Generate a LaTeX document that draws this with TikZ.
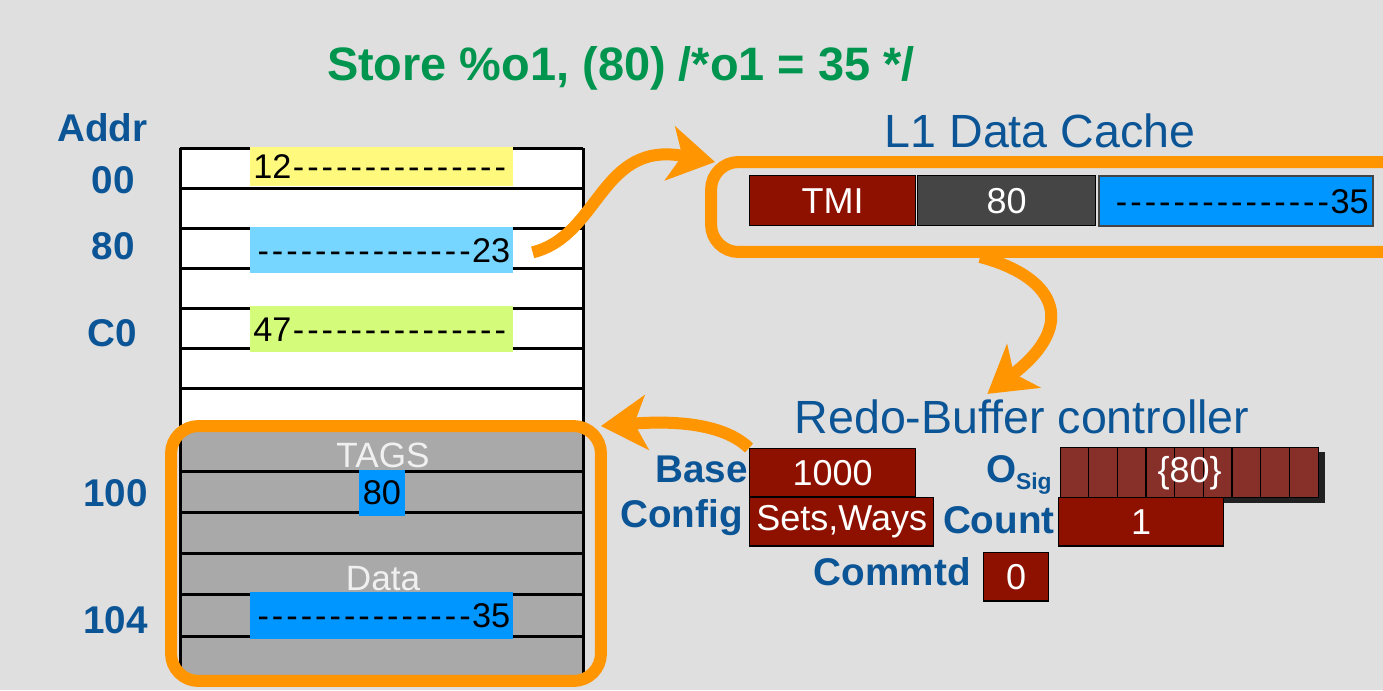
\documentclass[tikz,border=0pt]{standalone}
\usepackage{fontspec}
\setmainfont{Liberation Sans}
\usetikzlibrary{arrows.meta,calc,positioning}
\definecolor{Canvas}{HTML}{DFDFDF}
\definecolor{Amber}{HTML}{FF9500}
\definecolor{Navy}{HTML}{0B5596}
\definecolor{Leaf}{HTML}{00954F}
\definecolor{Brick}{HTML}{8E1100}
\definecolor{Rust}{HTML}{87302A}
\definecolor{Slate}{HTML}{454545}
\definecolor{Azure}{HTML}{0096FF}
\definecolor{Sky}{HTML}{76D6FF}
\definecolor{Lemon}{HTML}{FFFA7D}
\definecolor{Lime}{HTML}{D4FB79}
\definecolor{Stone}{HTML}{A9A9A9}
\newcommand\fs[1]{\fontsize{#1}{#1}\selectfont}
\newcommand\dashes{\foreach\k in {1,...,15}{\makebox[8.2pt]{-}}}

\begin{document}
\begin{tikzpicture}[x=0.02cm,y=-0.02cm,
    lab/.style={font=\bfseries\fs{22},text=Navy,inner sep=0pt},
    head/.style={font=\fs{26.5},text=Navy,inner sep=0pt},
    slot/.style={anchor=north west,inner xsep=0.06cm,inner ysep=0pt,text width=5.14cm,
      minimum height=0.92cm,font=\fs{19.5}},
    cell/.style={anchor=north west,draw=black,line width=0.8pt,inner sep=0pt,
      minimum height=0.97cm,text=white,font=\fs{20.5}},
    frame/.style={draw=Amber,line width=0.24cm,rounded corners=0.55cm,outer sep=0pt,inner sep=0pt},
    flow/.style={draw=Amber,line width=0.24cm,-{Stealth[length=26pt,width=31pt,inset=7pt]}},
    rowline/.style={line width=0.06cm}]
  \clip (0,0) rectangle (1383,690);
  \fill[Canvas] (0,0) rectangle (1383,690);

  \node[font=\bfseries\fs{26.7},text=Leaf,inner sep=0pt,anchor=base] (instr) at (621,80)
    {Store \%o1, (80) /*o1 = 35 */};

  % memory column
  \fill[white] (180,148) rectangle (583,430);
  \fill[Stone] (180,430) rectangle (583,677);
  \foreach \y in {148,188,228,268,308,348,388,430,471,512,553,594,636}
    \draw[rowline] (180,\y) -- (583,\y);
  \draw[rowline] (180,148) -- (180,677) (583,148) -- (583,677);

  \node[lab,anchor=base east] (addr) at (148,141) {Addr};
  \node[lab,anchor=base east] (a00) at (135,193) {00};
  \node[lab,anchor=base east] (a80) at (135,259) {80};
  \node[lab,anchor=base east] (ac0) at (137,346) {C0};
  \node[lab,anchor=base east] (a100) at (148,506) {100};
  \node[lab,anchor=base east] (a104) at (148,633) {104};

  \node[slot,fill=Lemon,minimum height=0.78cm,align=left] (v12) at (250,147) {12\dashes};
  \node[slot,fill=Sky,align=right] (v23) at (250,227) {\dashes23};
  \node[slot,fill=Lime,align=left] (v47) at (250,306) {47\dashes};

  \node[frame,minimum width=8.6cm,minimum height=5.1cm] (memframe) at (386,553.5) {};
  \node[font=\fs{20},text=white!94!black,inner sep=0pt,anchor=base] (tags) at (383,467) {TAGS};
  \node[fill=Azure,inner sep=0pt,minimum width=0.92cm,minimum height=0.92cm,font=\fs{19.5}] (tag80) at (382,493) {80};
  \node[font=\fs{20},text=white!94!black,inner sep=0pt,anchor=base] (data) at (383,590) {Data};
  \node[slot,fill=Azure,minimum height=0.94cm,align=right] (v35) at (250,592) {\dashes35};

  % L1 data cache
  \node[head,anchor=base] (l1) at (1040,147) {L1 Data Cache};
  \node[frame,minimum width=14.02cm,minimum height=1.8cm] (cacheframe) at (1061.5,207) {};
  \node[cell,fill=Brick,minimum width=3.32cm,minimum height=1cm] (tmi) at (749,175) {TMI};
  \node[cell,fill=Slate,minimum width=3.56cm,minimum height=1cm] (ctag) at (917,175) {80};
  \node[cell,fill=Azure,draw=Slate,line width=1.4pt,text=black,inner xsep=0.09cm,text width=5.3cm,
    align=right,minimum height=1cm,font=\fs{19.5}] (cdata) at (1098,175) {\dashes35};

  % redo-buffer controller
  \node[head,anchor=base] (redo) at (1022,433) {Redo-Buffer controller};
  \node[cell,fill=Brick,minimum width=3.32cm] (base) at (749,448) {1000};
  \node[cell,fill=Brick,minimum width=3.68cm] (config) at (749,497) {Sets,Ways};
  \fill[black,opacity=.85] (1065,452) rectangle (1325,503);
  \node[cell,fill=Rust,minimum width=5.16cm,minimum height=1cm] (osig) at (1060,447) {};
  \foreach \i in {1,...,8}
    \draw[line width=0.8pt] ({1060+\i*28.67},447) -- ++(0,50);
  \node[text=white,font=\fs{20.5},inner sep=0pt] at (osig.center) {\{80\}};
  \node[cell,fill=Brick,minimum width=3.3cm] (count) at (1058,497) {1};
  \node[cell,fill=Brick,minimum width=1.3cm] (commtd) at (983,552) {0};

  \node[lab,anchor=base east] (lbase) at (748,482) {Base};
  \node[lab,anchor=base east] (lconfig) at (743,527) {Config};
  \node[lab,anchor=base east] (losig) at (1052,482) {O\raisebox{-4pt}{\fs{13}Sig}};
  \node[lab,anchor=base east] (lcount) at (1055,533) {Count};
  \node[lab,anchor=base east] (lcommtd) at (971,585) {Commtd};

  % orange flows
  \draw[flow] ($(v23.east)+(19,2)$) .. controls +(68,-17) and +(-115,-22) .. ($(cacheframe.north west)+(4,0)$);
  \draw[flow] ($(cacheframe.south west)+(269,5)$) .. controls +(70,18) and +(95,-73) .. ($(redo.north west)+(193,-5)$);
  \draw[flow] (base.north west) .. controls +(-24,-23) and +(79,-6) .. (memframe.north east);
\end{tikzpicture}
\end{document}
